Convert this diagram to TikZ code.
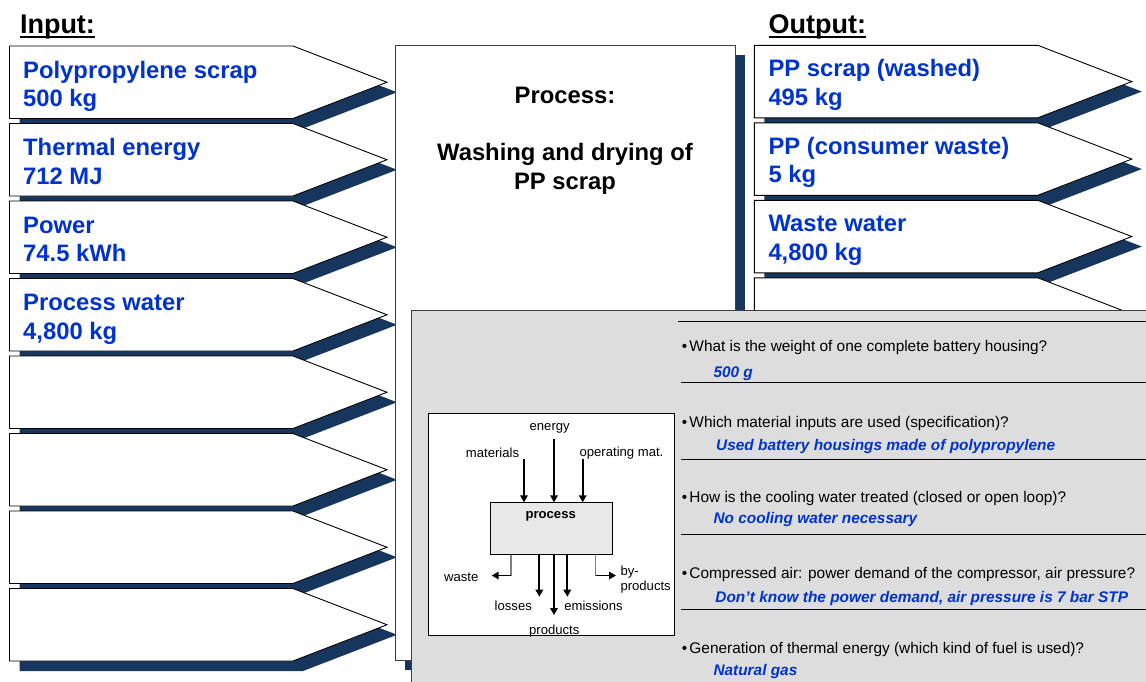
\documentclass[tikz,border=0pt]{standalone}
\usepackage{fontspec}
\setmainfont{Liberation Sans}
\usetikzlibrary{arrows.meta}

\definecolor{navy}{HTML}{17365D}
\definecolor{flowblue}{HTML}{0033CC}
\definecolor{panelgray}{HTML}{DDDDDD}
\definecolor{boxgray}{HTML}{E8E8E8}
\definecolor{edgegray}{HTML}{404040}

\tikzset{
  flowarrow/.style={fill=white, draw=black, line width=0.9pt, line join=miter},
  flowshadow/.style={fill=navy, draw=none},
  ioarrow/.pic={
    \fill[flowshadow] (10,10) -- (293.5,10) -- (387.5,46.25) -- (293.5,82.5) -- (10,82.5) -- cycle;
    \draw[flowarrow] (0,0) -- (283.5,0) -- (377.5,36.25) -- (283.5,72.5) -- (0,72.5) -- cycle;
  },
  % two-line labels: the base anchor sits on the baseline of the last line
  bigtext/.style={font=\bfseries\fontsize{23.8}{28.5}\selectfont, text=flowblue,
    align=left, inner sep=0pt, anchor=base west},
  titletext/.style={font=\bfseries\fontsize{27}{30}\selectfont, inner sep=0pt, anchor=base west},
  proctext/.style={font=\bfseries\fontsize{23.8}{28.4}\selectfont, align=center, inner sep=0pt, anchor=base},
  smalltext/.style={font=\fontsize{13.1}{15.7}\selectfont, inner sep=0pt},
  flow/.style={line width=1.7pt, -{Triangle[length=7pt,width=7.5pt]}},
  question/.style={font=\fontsize{15.4}{18}\selectfont, inner sep=0pt, anchor=base west},
  answer/.style={font=\bfseries\itshape\fontsize{15.4}{18}\selectfont, text=flowblue, inner sep=0pt, anchor=base west},
  rule/.style={line width=1pt, draw=black},
}

\begin{document}
\begin{tikzpicture}[x=1pt, y=-1pt]
\useasboundingbox (0,0) rectangle (1146,681);
\clip (0,0) rectangle (1146,681);
\fill[white] (0,0) rectangle (1146,681);

% headings
\node[titletext] (intitle) at (19.8,33.3) {Input:};
\draw[line width=2.2pt] ([yshift=-3.6pt]intitle.base west) -- ([yshift=-3.6pt]intitle.base east);
\node[titletext] (outtitle) at (768.5,33.3) {Output:};
\draw[line width=2.2pt] ([yshift=-3.6pt]outtitle.base west) -- ([yshift=-3.6pt]outtitle.base east);

% input arrows
\foreach \i in {0,...,7} {
  \pic at (9.5,46+77.5*\i) {ioarrow};
}
\node[bigtext] (in1) at (23,106.8) {Polypropylene scrap\\500 kg};
\node[bigtext] (in2) at (23,184.3) {Thermal energy\\712 MJ};
\node[bigtext] (in3) at (23,261.8) {Power\\74.5 kWh};
\node[bigtext] (in4) at (23,339.3) {Process water\\4,800 kg};

% process block with shadow
\fill[navy] (405,55.3) rectangle (745,670);
\node[draw=edgegray, fill=white, line width=1pt, anchor=north west, inner sep=0pt,
      minimum width=340pt, minimum height=614.7pt] (process) at (395,45.3) {};
\node[proctext] (proctitle) at (565,189) {Process:\\[28.4pt]Washing and drying of\\PP scrap};

% output arrows
\foreach \i in {0,...,3} {
  \pic at (754.3,45.3+77.5*\i) {ioarrow};
}
\node[bigtext] (out1) at (768.3,105) {PP scrap (washed)\\495 kg};
\node[bigtext] (out2) at (768.3,182.5) {PP (consumer waste)\\5 kg};
\node[bigtext] (out3) at (768.3,260) {Waste water\\4,800 kg};

% question panel
\fill[panelgray] (411.7,310.7) rectangle (1160,700);
\draw[edgegray, line width=1pt] (1160,310.7) -- (411.7,310.7) -- (411.7,700);

% generic process scheme
\node[draw=black, fill=white, line width=0.8pt, anchor=north west, inner sep=0pt,
      minimum width=246pt, minimum height=222.3pt] (schema) at (428.3,412.7) {};
\node[draw=black, fill=boxgray, line width=0.8pt, anchor=north west, inner sep=0pt,
      minimum width=121.7pt, minimum height=51.7pt] (proc) at (490,502.3) {};
\node[smalltext, font=\bfseries\fontsize{13.1}{15.7}\selectfont] (proclabel) at (550.7,516.7) {process};

\node[smalltext] (energy) at (549.7,428.3) {energy};
\node[smalltext] (materials) at (492.5,453.3) {materials};
\node[smalltext] (opmat) at (621.5,453.3) {operating mat.};
\node[smalltext] (waste) at (461.3,577.7) {waste};
\node[smalltext] (losses) at (513.3,606) {losses};
\node[smalltext] (emissions) at (593.5,606) {emissions};
\node[smalltext] (products) at (554.3,631) {products};
\node[smalltext, align=left, anchor=base west] (byprod) at (620.3,590.7) {by-\\products};

\coordinate (matstart) at (524,459);
\coordinate (enstart) at (554,439);
\coordinate (opstart) at (582.7,459);
\draw[flow] (matstart) -- (matstart |- proc.north);
\draw[flow] (enstart) -- (enstart |- proc.north);
\draw[flow] (opstart) -- (opstart |- proc.north);

\coordinate (lossend) at (539.3,596.7);
\coordinate (prodend) at (554,615);
\coordinate (emisend) at (567.3,596.7);
\draw[flow] (lossend |- proc.south) -- (lossend);
\draw[flow] (prodend |- proc.south) -- (prodend);
\draw[flow] (emisend |- proc.south) -- (emisend);

\coordinate (wastebend) at (511,575.5);
\coordinate (wasteend) at (491.7,575.5);
\draw[gray, line width=1.1pt] (wastebend |- proc.south) -- (wastebend);
\draw[flow] (wastebend) -- (wasteend);
\coordinate (bybend) at (595.7,575.5);
\coordinate (byend) at (616,575.5);
\draw[gray, line width=1.1pt] (bybend |- proc.south) -- (bybend);
\draw[flow] (bybend) -- (byend);

% questions and answers
\draw[rule] (678.3,321.7) -- (1150,321.7);
\draw[rule] (681,382.7) -- (1150,382.7);
\draw[rule] (681,459) -- (1150,459);
\draw[rule] (681,534.3) -- (1150,534.3);
\draw[rule] (681,609.3) -- (1150,609.3);

\node[question] (q1) at (681.7,351) {•\hspace{2.2pt}What is the weight of one complete battery housing?};
\node[answer] (a1) at (713.3,377.3) {500 g};
\node[question] (q2) at (681.7,427.3) {•\hspace{2.2pt}Which material inputs are used (specification)?};
\node[answer] (a2) at (716,450.7) {Used battery housings made of polypropylene};
\node[question] (q3) at (681.7,502.3) {•\hspace{2.2pt}How is the cooling water treated (closed or open loop)?};
\node[answer] (a3) at (713.3,523.3) {No cooling water necessary};
\node[question] (q4) at (681.7,578.3) {•\hspace{2.2pt}Compressed air: power demand of the compressor, air pressure?};
\node[answer] (a4) at (715.2,602.3) {Don’t know the power demand, air pressure is 7 bar STP};
\node[question] (q5) at (681.7,653.3) {•\hspace{2.2pt}Generation of thermal energy (which kind of fuel is used)?};
\node[answer] (a5) at (713.3,675.7) {Natural gas};
\end{tikzpicture}
\end{document}
